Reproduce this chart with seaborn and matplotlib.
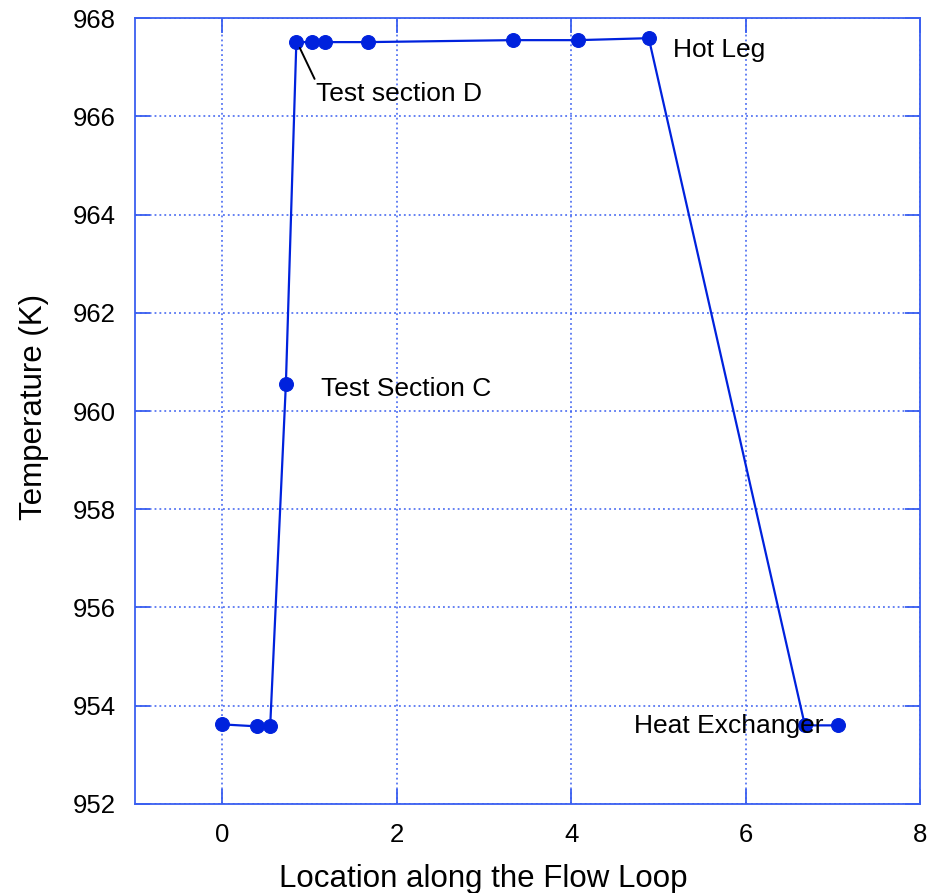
import matplotlib
matplotlib.use("Agg")
import matplotlib.pyplot as plt
import seaborn as sns
import pandas as pd

# Temperature measured at stations along the flow loop
location = [0.0, 0.40, 0.55, 0.73, 0.85, 1.03, 1.18, 1.67, 3.33, 4.08, 4.89, 6.68, 7.06]
temperature = [953.62, 953.58, 953.58, 960.55, 967.51, 967.51, 967.51, 967.51,
               967.55, 967.55, 967.59, 953.60, 953.60]

x_ticks = [0, 2, 4, 6, 8]
y_ticks = [952, 954, 956, 958, 960, 962, 964, 966, 968]

sns.set_theme(style="white")
plt.rcParams["font.family"] = ["Liberation Sans", "DejaVu Sans"]

df = pd.DataFrame({"loc": location, "temp": temperature})

line_color = "#0022dd"
frame_color = "#3a5ff0"

fig = plt.figure(figsize=(9.27, 8.93), dpi=100)
ax = fig.add_axes([0.1456, 0.0997, 0.8469, 0.8801])

sns.lineplot(data=df, x="loc", y="temp", sort=False, marker="o", color=line_color,
             markersize=10, markeredgecolor=line_color, linewidth=1.6, ax=ax, zorder=3)

ax.set_xlim(-1, 8)
ax.set_ylim(952, 968)
ax.set_xticks(x_ticks)
ax.set_yticks(y_ticks)
ax.set_xticklabels([str(t) for t in x_ticks])
ax.set_yticklabels([str(t) for t in y_ticks])

ax.grid(True, color=frame_color, linestyle=(0, (1.2, 2.0)), linewidth=1.1)
for s in ax.spines.values():
    s.set_color(frame_color)
    s.set_linewidth(1.3)
ax.tick_params(axis="both", direction="in", length=11, width=1.3, color=frame_color,
               labelsize=18.5, top=True, right=True, bottom=True, left=True,
               labelcolor="black")
ax.tick_params(axis="y", pad=14)
ax.tick_params(axis="x", pad=14)

ax.set_xlabel("Location along the Flow Loop", fontsize=22.5, color="black")
ax.xaxis.set_label_coords(0.443, -0.077)
ax.set_ylabel("Temperature (K)", fontsize=22.5, color="black")
ax.yaxis.set_label_coords(-0.110, 0.505)

txt = dict(fontsize=19, color="black", va="center", ha="left", zorder=5)
ax.text(5.17, 967.35, "Hot Leg", **txt)
ax.text(1.13, 960.44, "Test Section C", **txt)
ax.text(4.72, 953.58, "Heat Exchanger", **txt)
ax.annotate("Test section D", xy=(0.89, 967.39), xytext=(1.077, 966.45),
            fontsize=19, va="center", ha="left", color="black", zorder=5,
            arrowprops=dict(arrowstyle="-", color="black", lw=1.4,
                            shrinkA=0, shrinkB=0, relpos=(0.0, 1.0)))

fig.savefig("out.png", dpi=100, facecolor="white")
